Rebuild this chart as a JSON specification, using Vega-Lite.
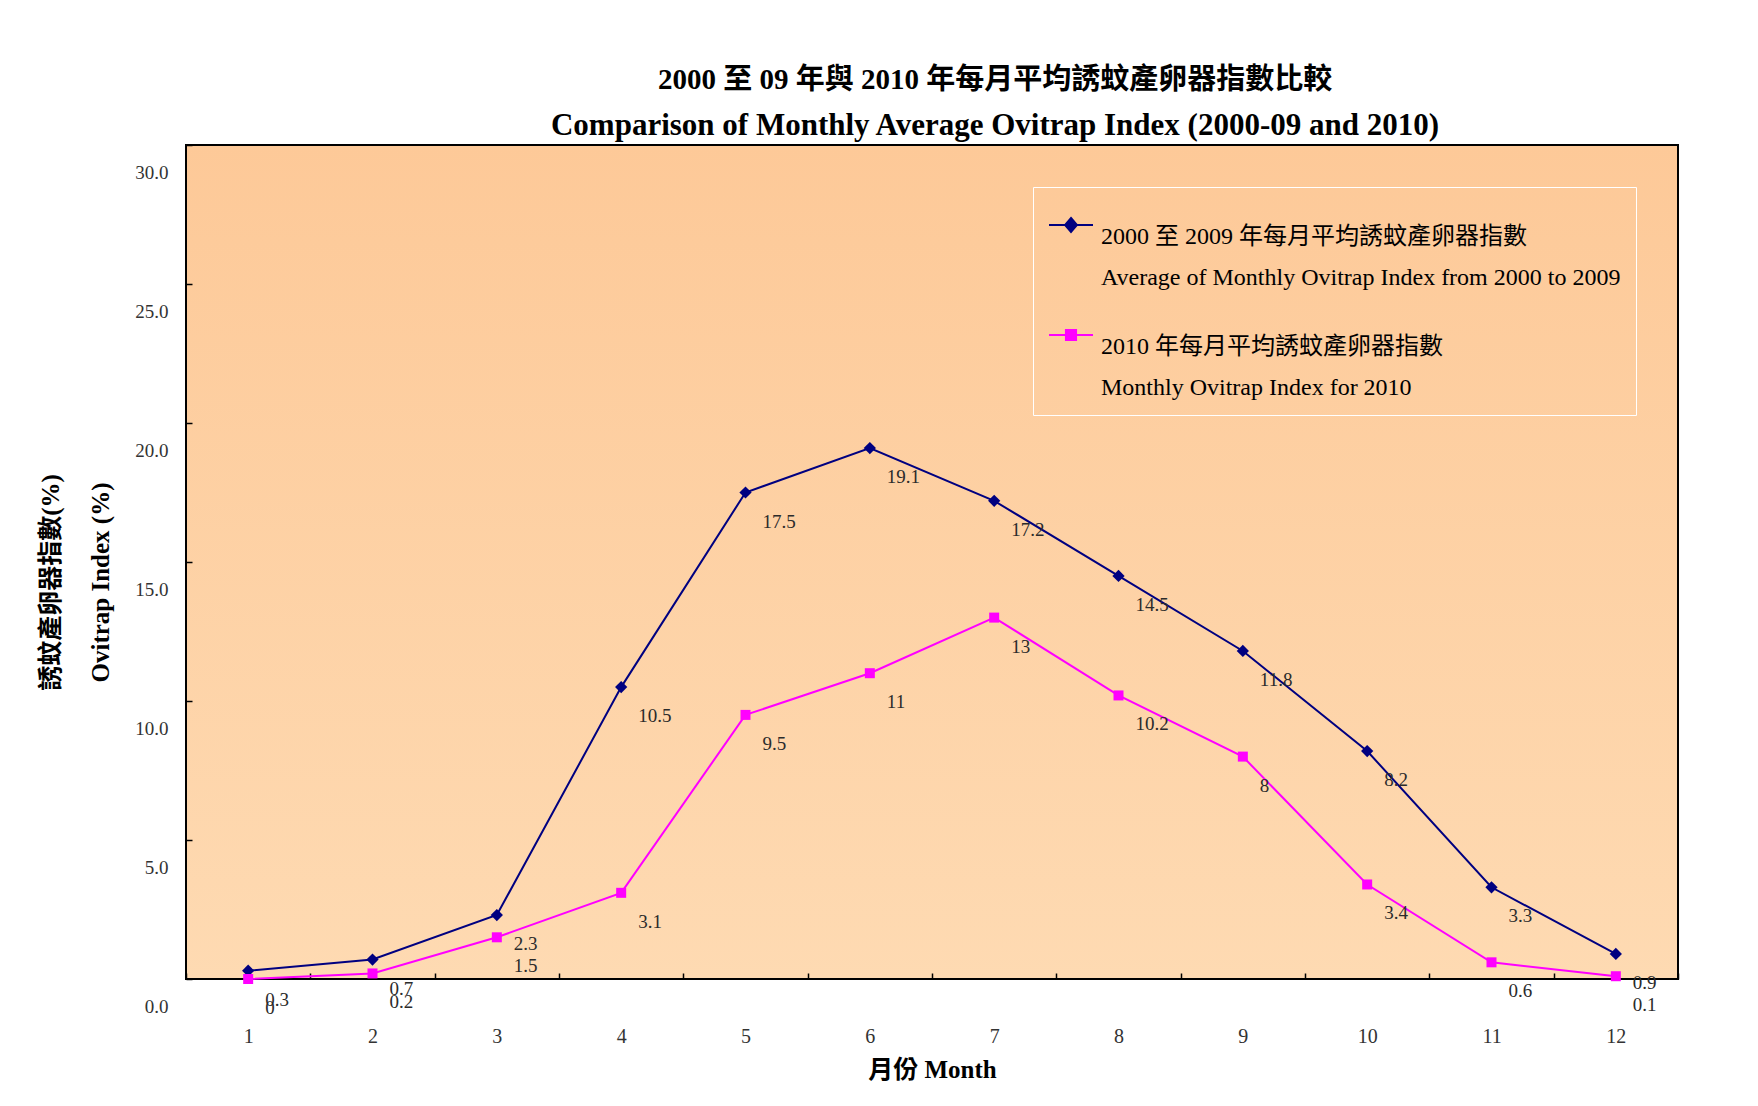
{
  "$schema": "https://vega.github.io/schema/vega-lite/v6.json",
  "width": 1492,
  "height": 834,
  "autosize": "none",
  "padding": {"left": 186, "top": 145, "right": 80, "bottom": 127},
  "background": "#FFFFFF",
  "title": {
    "text": "2000 至 09 年與 2010 年每月平均誘蚊產卵器指數比較",
    "subtitle": "Comparison of Monthly Average Ovitrap Index (2000-09 and 2010)",
    "anchor": "middle",
    "frame": "group",
    "dx": 63,
    "font": "Liberation Serif, Noto Sans CJK TC",
    "fontSize": 29,
    "fontWeight": "bold",
    "color": "#000000",
    "subtitleFont": "Liberation Serif",
    "subtitleFontSize": 31,
    "subtitleFontWeight": "bold",
    "subtitleColor": "#000000",
    "subtitlePadding": 16,
    "offset": 3
  },
  "data": {
    "values": [
      {"month": 1, "series": "2000-2009", "v": 0.3},
      {"month": 2, "series": "2000-2009", "v": 0.7},
      {"month": 3, "series": "2000-2009", "v": 2.3},
      {"month": 4, "series": "2000-2009", "v": 10.5},
      {"month": 5, "series": "2000-2009", "v": 17.5},
      {"month": 6, "series": "2000-2009", "v": 19.1},
      {"month": 7, "series": "2000-2009", "v": 17.2},
      {"month": 8, "series": "2000-2009", "v": 14.5},
      {"month": 9, "series": "2000-2009", "v": 11.8},
      {"month": 10, "series": "2000-2009", "v": 8.2},
      {"month": 11, "series": "2000-2009", "v": 3.3},
      {"month": 12, "series": "2000-2009", "v": 0.9},
      {"month": 1, "series": "2010", "v": 0},
      {"month": 2, "series": "2010", "v": 0.2},
      {"month": 3, "series": "2010", "v": 1.5},
      {"month": 4, "series": "2010", "v": 3.1},
      {"month": 5, "series": "2010", "v": 9.5},
      {"month": 6, "series": "2010", "v": 11},
      {"month": 7, "series": "2010", "v": 13},
      {"month": 8, "series": "2010", "v": 10.2},
      {"month": 9, "series": "2010", "v": 8},
      {"month": 10, "series": "2010", "v": 3.4},
      {"month": 11, "series": "2010", "v": 0.6},
      {"month": 12, "series": "2010", "v": 0.1}
    ]
  },
  "encoding": {
    "x": {
      "field": "month",
      "type": "ordinal",
      "bandPosition": 0.5,
      "scale": {"type": "band", "paddingInner": 0, "paddingOuter": 0},
      "axis": {
        "title": "月份 Month",
        "labelAngle": 0,
        "tickBand": "extent",
        "tickSize": -6,
        "tickColor": "#000000",
        "tickWidth": 1.5,
        "domain": false,
        "grid": false,
        "labelPadding": 53,
        "labelFont": "Liberation Serif",
        "labelFontSize": 20,
        "labelColor": "#333333",
        "titleFont": "Liberation Serif, Noto Sans CJK TC",
        "titleFontSize": 25,
        "titleFontWeight": "bold",
        "titleColor": "#000000",
        "titlePadding": 11
      }
    },
    "y": {
      "field": "v",
      "type": "quantitative",
      "scale": {"domain": [0, 30], "nice": false},
      "axis": {
        "title": ["誘蚊產卵器指數(%)", "Ovitrap Index (%)"],
        "values": [0, 5, 10, 15, 20, 25, 30],
        "format": ".1f",
        "labelOffset": 27,
        "tickSize": -6,
        "tickColor": "#000000",
        "tickWidth": 1.5,
        "domain": false,
        "grid": false,
        "labelPadding": 24,
        "labelFont": "Liberation Serif",
        "labelFontSize": 19,
        "labelColor": "#333333",
        "titleFont": "Liberation Serif, Noto Sans CJK TC",
        "titleFontSize": 25,
        "titleFontWeight": "bold",
        "titleColor": "#000000",
        "titleLineHeight": 50,
        "titlePadding": 21,
        "titleY": 437
      }
    },
    "color": {
      "field": "series",
      "type": "nominal",
      "scale": {"domain": ["2000-2009", "2010"], "range": ["#000080", "#FF00FF"]},
      "legend": {
        "title": null,
        "orient": "top-right",
        "offset": 42,
        "padding": 15,
        "strokeColor": "#FFFFFF",
        "symbolSize": 1936,
        "symbolStrokeWidth": 2,
        "symbolOpacity": 1,
        "labelOffset": 7,
        "labelBaseline": "top",
        "labelFont": "Liberation Serif, Noto Sans CJK TC",
        "labelFontSize": 24,
        "labelColor": "#000000",
        "labelLimit": 1000,
        "rowPadding": 22,
        "labelExpr": "datum.label === '2010' ? ['2010 年每月平均誘蚊產卵器指數', 'Monthly Ovitrap Index for 2010'] : ['2000 至 2009 年每月平均誘蚊產卵器指數', 'Average of Monthly Ovitrap Index from 2000 to 2009']"
      }
    }
  },
  "layer": [
    {"mark": {"type": "line", "strokeWidth": 2}},
    {
      "transform": [{"filter": "datum.series === '2000-2009'"}],
      "mark": {"type": "point", "shape": "diamond", "filled": true, "size": 150, "opacity": 1}
    },
    {
      "transform": [{"filter": "datum.series === '2010'"}],
      "mark": {"type": "point", "shape": "square", "filled": true, "size": 100, "opacity": 1}
    },
    {
      "mark": {"type": "point", "filled": true, "size": 110, "opacity": 0},
      "encoding": {
        "shape": {
          "field": "series",
          "type": "nominal",
          "scale": {
            "domain": ["2000-2009", "2010"],
            "range": ["M-1,0H1M0,-0.32L0.27,0L0,0.32L-0.27,0Z", "M-1,0H1M-0.23,-0.23H0.23V0.23H-0.23Z"]
          },
          "legend": {
            "title": null,
            "orient": "top-right",
            "offset": 42,
            "padding": 15,
            "strokeColor": "#FFFFFF",
            "symbolSize": 1936,
            "symbolStrokeWidth": 2,
            "symbolOpacity": 1,
            "labelOffset": 7,
            "labelBaseline": "top",
            "labelFont": "Liberation Serif, Noto Sans CJK TC",
            "labelFontSize": 24,
            "labelColor": "#000000",
            "labelLimit": 1000,
            "rowPadding": 22,
            "labelExpr": "datum.label === '2010' ? ['2010 年每月平均誘蚊產卵器指數', 'Monthly Ovitrap Index for 2010'] : ['2000 至 2009 年每月平均誘蚊產卵器指數', 'Average of Monthly Ovitrap Index from 2000 to 2009']"
          }
        }
      }
    },
    {
      "mark": {"type": "text", "align": "left", "baseline": "alphabetic", "dx": 17, "dy": 35, "font": "Liberation Serif", "fontSize": 19},
      "encoding": {
        "text": {"field": "v", "type": "quantitative"},
        "color": {"value": "#2b2b2b"}
      }
    }
  ],
  "config": {
    "style": {
      "guide-label": {"lineHeight": 41}
    },
    "view": {
      "stroke": "#000000",
      "strokeWidth": 2,
      "fill": {
        "gradient": "linear",
        "x1": 0, "y1": 0, "x2": 0, "y2": 1,
        "stops": [
          {"offset": 0, "color": "#FDC998"},
          {"offset": 1, "color": "#FEDAB2"}
        ]
      }
    }
  }
}
